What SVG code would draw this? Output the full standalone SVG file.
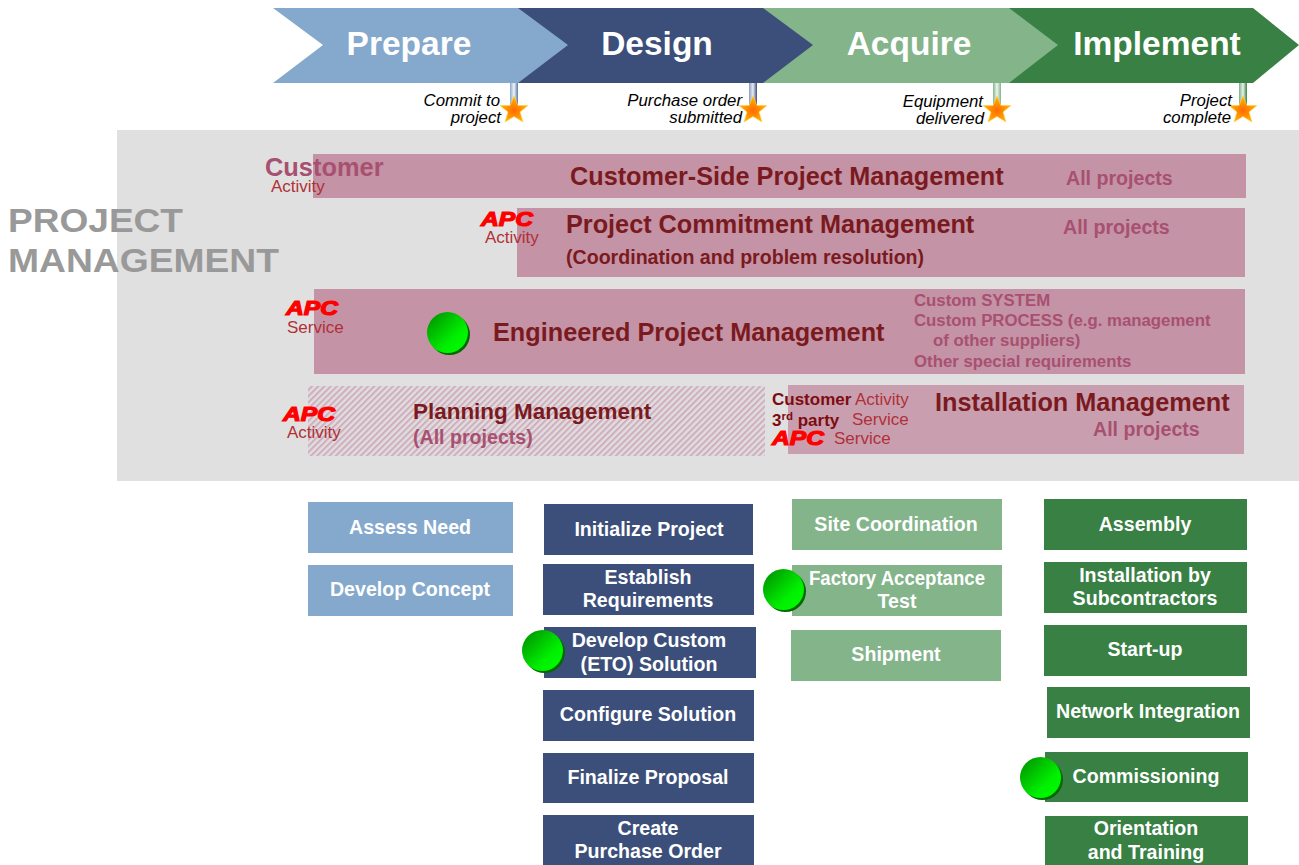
<svg xmlns="http://www.w3.org/2000/svg" width="1299" height="865" viewBox="0 0 1299 865">
<style>
text{font-family:"Liberation Sans",Arial,sans-serif}
.ch{font-size:33.5px;font-weight:bold;fill:#fff;text-anchor:middle}
.ms{font-size:16.8px;font-style:italic;fill:#000;text-anchor:end}
.pm{fill:#c493a6}
.t1{font-size:25.25px;font-weight:bold;fill:#7b1a1e}
.t2{font-size:19.6px;font-weight:bold;fill:#a85070}
.t3{font-size:16.8px;font-weight:bold;fill:#a85070}
.sm{font-size:17px;fill:#b03038}
.cu{font-weight:bold;fill:#7d0c10;font-size:17px}
.apc{font-size:20px;font-weight:bold;font-style:italic;fill:#ff0000;stroke:#ff0000;stroke-width:1.2}
.box{font-size:19.6px;font-weight:bold;fill:#fff;text-anchor:middle}
.lb{fill:#85a9cc}.db{fill:#3c4f7a}.lg{fill:#83b48a}.dg{fill:#388043}
</style>
<defs>
<linearGradient id="pb" x1="0" x2="1" y1="0" y2="0"><stop offset="0" stop-color="#85a9cc"/><stop offset=".5" stop-color="#f0f4f8"/><stop offset="1" stop-color="#5a78a5"/></linearGradient>
<linearGradient id="pd" x1="0" x2="1" y1="0" y2="0"><stop offset="0" stop-color="#8c9cbc"/><stop offset=".5" stop-color="#e8ecf2"/><stop offset="1" stop-color="#3c4f7a"/></linearGradient>
<linearGradient id="pl" x1="0" x2="1" y1="0" y2="0"><stop offset="0" stop-color="#83b48a"/><stop offset=".5" stop-color="#eef5ef"/><stop offset="1" stop-color="#83b48a"/></linearGradient>
<linearGradient id="pg" x1="0" x2="1" y1="0" y2="0"><stop offset="0" stop-color="#7ab083"/><stop offset=".5" stop-color="#e8f2ea"/><stop offset="1" stop-color="#388043"/></linearGradient>
<radialGradient id="st" cx=".5" cy=".55" r=".5"><stop offset="0" stop-color="#ff6a00"/><stop offset="1" stop-color="#ffb400"/></radialGradient>
<linearGradient id="ball" x1="0" y1="0" x2="1" y2="1"><stop offset="0" stop-color="#008a00"/><stop offset=".65" stop-color="#00f000"/><stop offset="1" stop-color="#00ff00"/></linearGradient>
<pattern id="hat" width="4.4" height="4.4" patternUnits="userSpaceOnUse" patternTransform="rotate(-45)"><rect width="4.4" height="4.4" fill="#dfdde0"/><rect width="4.4" height="2" fill="#d0aebc"/></pattern>
<polygon id="star" points="0,-14 3.9,-4.5 14,-4.5 6,2 9,12 0,6.5 -9,12 -6,2 -14,-4.5 -3.9,-4.5" fill="url(#st)" stroke="#ffd24a" stroke-width=".6"/>
<g id="b"><circle cx="22.5" cy="22.5" r="20.5" fill="#006a00"/><circle cx="20.5" cy="20.5" r="20.5" fill="url(#ball)"/></g>
</defs>
<rect width="1299" height="865" fill="#fff"/>
<g id="phases">
<polygon class="dg" points="1009,8 1253,8 1299,45 1253,83 1009,83"/>
<polygon class="lg" points="763,8 1009,8 1058,45 1009,83 763,83"/>
<polygon class="db" points="518,8 763,8 813,45 763,83 518,83"/>
<polygon class="lb" points="273,8 518,8 568,45 518,83 273,83 323,45"/>
<text class="ch" x="409" y="55">Prepare</text>
<text class="ch" x="657" y="55">Design</text>
<text class="ch" x="909" y="55">Acquire</text>
<text class="ch" x="1157" y="55">Implement</text>
</g>
<g id="milestones">
<rect x="510" y="83" width="8" height="28" fill="url(#pb)"/>
<rect x="749" y="83" width="8" height="28" fill="url(#pd)"/>
<rect x="993" y="83" width="8" height="28" fill="url(#pl)"/>
<rect x="1239" y="83" width="8" height="28" fill="url(#pg)"/>
<use href="#star" x="514" y="110"/><use href="#star" x="753" y="110"/><use href="#star" x="997" y="110"/><use href="#star" x="1243" y="110"/>
<text class="ms" x="500" y="106">Commit to</text><text class="ms" x="501" y="123">project</text>
<text class="ms" x="742" y="106">Purchase order</text><text class="ms" x="742" y="123">submitted</text>
<text class="ms" x="983" y="107">Equipment</text><text class="ms" x="984" y="124">delivered</text>
<text class="ms" x="1232" y="106">Project</text><text class="ms" x="1231" y="123">complete</text>
</g>
<rect id="panel" x="117" y="130" width="1182" height="351" fill="#e0e0e0"/>
<text x="8" y="232" font-size="34" font-weight="bold" fill="#999" textLength="175" lengthAdjust="spacingAndGlyphs">PROJECT</text>
<text x="8" y="272" font-size="34" font-weight="bold" fill="#999" textLength="271" lengthAdjust="spacingAndGlyphs">MANAGEMENT</text>
<g id="customer-pm">
<rect class="pm" x="313" y="154" width="933" height="44"/>
<text x="265" y="176" font-size="25.4" font-weight="bold" fill="#a85070">Customer</text>
<text class="sm" x="271" y="192">Activity</text>
<text class="t1" x="570" y="185">Customer-Side Project Management</text>
<text class="t2" x="1066" y="185">All projects</text>
</g>
<g id="commitment-pm">
<rect class="pm" x="517" y="208" width="728" height="69"/>
<text class="apc" x="481" y="226" textLength="52" lengthAdjust="spacingAndGlyphs">APC</text>
<text class="sm" x="485" y="243">Activity</text>
<text class="t1" x="566" y="233">Project Commitment Management</text>
<text x="566" y="264" font-size="19.6" font-weight="bold" fill="#7b1a1e">(Coordination and problem resolution)</text>
<text class="t2" x="1063" y="234">All projects</text>
</g>
<g id="engineered-pm">
<rect class="pm" x="314" y="289" width="931" height="85"/>
<text class="apc" x="286" y="315" textLength="52" lengthAdjust="spacingAndGlyphs">APC</text>
<text class="sm" x="287" y="333">Service</text>
<use href="#b" x="427" y="312"/>
<text class="t1" x="493" y="341">Engineered Project Management</text>
<text class="t3" x="914" y="306">Custom SYSTEM</text>
<text class="t3" x="914" y="326">Custom PROCESS (e.g. management</text>
<text class="t3" x="933" y="346">of other suppliers)</text>
<text class="t3" x="914" y="367">Other special requirements</text>
</g>
<g id="planning-pm">
<rect x="308" y="386" width="457" height="70" fill="url(#hat)"/>
<text class="apc" x="283" y="421" textLength="52" lengthAdjust="spacingAndGlyphs">APC</text>
<text class="sm" x="287" y="438">Activity</text>
<text x="413" y="419" font-size="22.45" font-weight="bold" fill="#7b1a1e">Planning Management</text>
<text class="t2" x="413" y="444">(All projects)</text>
</g>
<g id="installation-pm">
<rect x="788" y="385" width="456" height="69" fill="#c99fb0"/>
<text class="cu" x="772" y="405">Customer</text>
<text class="cu" x="772" y="426">3<tspan font-size="11.5" dy="-6">rd</tspan><tspan dy="6"> party</tspan></text>
<text class="apc" x="772" y="445" textLength="52" lengthAdjust="spacingAndGlyphs">APC</text>
<text class="sm" x="855" y="405">Activity</text>
<text class="sm" x="852" y="425">Service</text>
<text class="sm" x="834" y="444">Service</text>
<text class="t1" x="935" y="411">Installation Management</text>
<text class="t2" x="1093" y="436">All projects</text>
</g>
<g id="n1"><rect class="lb" x="308" y="502" width="205" height="51"/><text class="box" x="410" y="534">Assess Need</text></g>
<g id="n2"><rect class="lb" x="308" y="565" width="205" height="51"/><text class="box" x="410" y="596">Develop Concept</text></g>
<g id="n3"><rect class="db" x="544" y="504" width="209" height="51"/><text class="box" x="649" y="536">Initialize Project</text></g>
<g id="n4"><rect class="db" x="543" y="564" width="211" height="51"/><text class="box" x="648" y="584">Establish</text><text class="box" x="648" y="607">Requirements</text></g>
<g id="n5"><rect class="db" x="544" y="627" width="212" height="51"/><use href="#b" x="522" y="630"/><text class="box" x="649" y="647">Develop Custom</text><text class="box" x="649" y="671">(ETO) Solution</text></g>
<g id="n6"><rect class="db" x="543" y="690" width="211" height="51"/><text class="box" x="648" y="721">Configure Solution</text></g>
<g id="n7"><rect class="db" x="543" y="753" width="211" height="50"/><text class="box" x="648" y="784">Finalize Proposal</text></g>
<g id="n8"><rect class="db" x="543" y="815" width="211" height="50"/><text class="box" x="648" y="835">Create</text><text class="box" x="648" y="858">Purchase Order</text></g>
<g id="n9"><rect class="lg" x="792" y="499" width="210" height="51"/><text class="box" x="896" y="531">Site Coordination</text></g>
<g id="n10"><rect class="lg" x="792" y="565" width="210" height="51"/><use href="#b" x="763" y="569"/><text class="box" x="897" y="585" textLength="176" lengthAdjust="spacingAndGlyphs">Factory Acceptance</text><text class="box" x="897" y="608">Test</text></g>
<g id="n11"><rect class="lg" x="791" y="630" width="210" height="51"/><text class="box" x="896" y="661">Shipment</text></g>
<g id="n12"><rect class="dg" x="1044" y="499" width="203" height="51"/><text class="box" x="1145" y="531">Assembly</text></g>
<g id="n13"><rect class="dg" x="1044" y="562" width="203" height="51"/><text class="box" x="1145" y="582">Installation by</text><text class="box" x="1145" y="605">Subcontractors</text></g>
<g id="n14"><rect class="dg" x="1044" y="625" width="203" height="51"/><text class="box" x="1145" y="656">Start-up</text></g>
<g id="n15"><rect class="dg" x="1047" y="687" width="203" height="51"/><text class="box" x="1148" y="718">Network Integration</text></g>
<g id="n16"><rect class="dg" x="1045" y="752" width="203" height="50"/><use href="#b" x="1020" y="757"/><text class="box" x="1146" y="783">Commissioning</text></g>
<g id="n17"><rect class="dg" x="1045" y="816" width="203" height="49"/><text class="box" x="1146" y="835">Orientation</text><text class="box" x="1146" y="859">and Training</text></g>
<g id="connectors"/>
</svg>
